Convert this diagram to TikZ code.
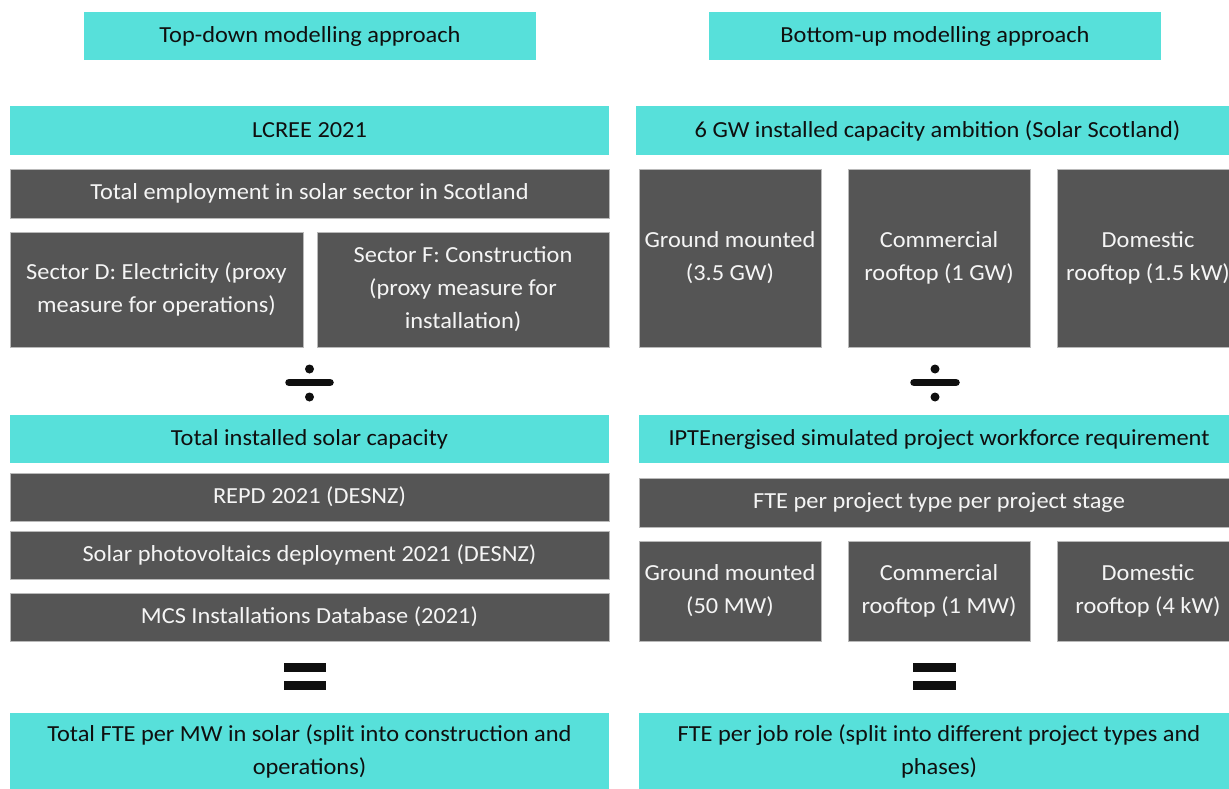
\documentclass[tikz,border=0pt]{standalone}
\usepackage{fontspec}
\setmainfont{Carlito}[FakeStretch=1.06]
\definecolor{cyanbox}{RGB}{87,224,218}
\definecolor{greybox}{RGB}{85,85,85}
\definecolor{greyedge}{RGB}{185,185,185}
\definecolor{darktext}{RGB}{15,15,15}
\definecolor{lighttext}{RGB}{245,245,245}
\definecolor{symb}{RGB}{15,15,15}
\tikzset{
  base/.style={rectangle, inner sep=0pt, outer sep=0pt, align=center,
    font=\fontsize{23}{33}\selectfont},
  cbox/.style={base, fill=cyanbox, text=darktext},
  gbox/.style={base, fill=greybox, text=lighttext, draw=greyedge, line width=0.8pt},
}
\begin{document}
\begin{tikzpicture}[x=1pt,y=-1pt]
\useasboundingbox (0,0) rectangle (1229,789);
\fill[white] (0,0) rectangle (1229,789);
\clip (0,0) rectangle (1229,789);

% headers
\node[cbox, minimum width=452, minimum height=48] (hdrL) at (310,36) {Top-down modelling approach};
\node[cbox, minimum width=452, minimum height=48] (hdrR) at (935,36) {Bottom-up modelling approach};

% left column
\node[cbox, minimum width=599, minimum height=49] (lcree) at (309.5,130.5) {LCREE 2021};
\node[gbox, minimum width=599, minimum height=49] (totemp) at (309.5,193.5) {Total employment in solar sector in Scotland};
\node[gbox, minimum width=293, minimum height=115] (secD) at (156.5,289.5) {Sector D: Electricity (proxy\\measure for operations)};
\node[gbox, minimum width=292, minimum height=115] (secF) at (463,289.5) {Sector F: Construction\\(proxy measure for\\installation)};
\node[cbox, minimum width=599, minimum height=48] (totinst) at (309.5,439) {Total installed solar capacity};
\node[gbox, minimum width=599, minimum height=48] (repd) at (309.5,497) {REPD 2021 (DESNZ)};
\node[gbox, minimum width=599, minimum height=48] (solpv) at (309.5,555) {Solar photovoltaics deployment 2021 (DESNZ)};
\node[gbox, minimum width=599, minimum height=48] (mcs) at (309.5,617) {MCS Installations Database (2021)};
\node[cbox, minimum width=599, minimum height=77] (totfte) at (309.5,751.5) {Total FTE per MW in solar (split into construction and\\operations)};

% right column
\node[cbox, minimum width=603, minimum height=49] (gw6) at (937.5,130.5) {6 GW installed capacity ambition (Solar Scotland)};
\node[gbox, minimum width=182, minimum height=178] (gm1) at (730,258) {Ground mounted\\(3.5 GW)};
\node[gbox, minimum width=182, minimum height=178] (cr1) at (939,258) {Commercial\\rooftop (1 GW)};
\node[gbox, minimum width=182, minimum height=178] (dr1) at (1148,258) {Domestic\\rooftop (1.5 kW)};
\node[cbox, minimum width=600, minimum height=48] (ipte) at (939,439) {IPTEnergised simulated project workforce requirement};
\node[gbox, minimum width=600, minimum height=49] (fteproj) at (939,502.5) {FTE per project type per project stage};
\node[gbox, minimum width=182, minimum height=100] (gm2) at (730,591) {Ground mounted\\(50 MW)};
\node[gbox, minimum width=182, minimum height=100] (cr2) at (939,591) {Commercial\\rooftop (1 MW)};
\node[gbox, minimum width=182, minimum height=100] (dr2) at (1148,591) {Domestic\\rooftop (4 kW)};
\node[cbox, minimum width=600, minimum height=77] (fterole) at (939,751.5) {FTE per job role (split into different project types and\\phases)};

% division signs
\fill[symb] (309.5,369) circle (4.5);
\fill[symb] (309.5,397) circle (4.5);
\draw[symb, line width=7.5, line cap=round] (289,382.5) -- (330,382.5);
\fill[symb] (935,369) circle (4.5);
\fill[symb] (935,397) circle (4.5);
\draw[symb, line width=7.5, line cap=round] (914,382.5) -- (956,382.5);

% equals signs
\fill[symb] (284,663) rectangle (326,672);
\fill[symb] (284,681) rectangle (326,690);
\fill[symb] (913,663) rectangle (956,672);
\fill[symb] (913,681) rectangle (956,690);
\end{tikzpicture}
\end{document}
